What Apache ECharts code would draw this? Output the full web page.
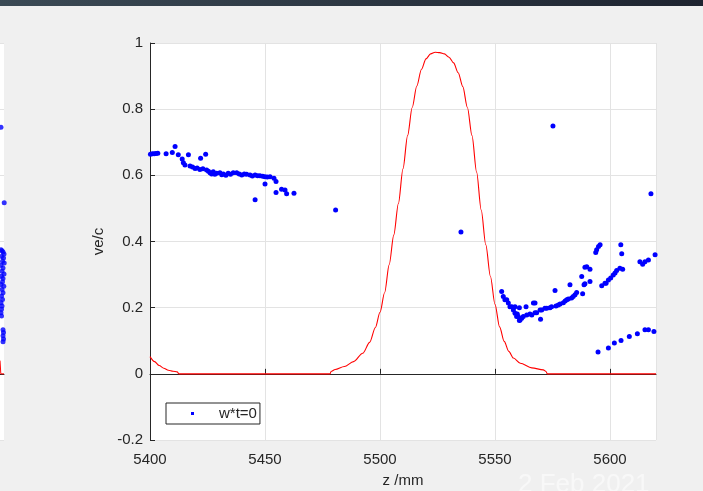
<!DOCTYPE html>
<html>
<head>
<meta charset="utf-8">
<script src="https://cdn.jsdelivr.net/npm/echarts@6/dist/echarts.min.js"></script>
<style>
html,body{margin:0;padding:0;background:#f0f0f0;}
#chart{width:703px;height:491px;}
</style>
</head>
<body>
<div id="chart"></div>
<script>
// ---- data ----
const xTicks = [5400, 5450, 5500, 5550, 5600];
const yTicks = [-0.2, 0, 0.2, 0.4, 0.6, 0.8, 1];
const seriesName = 'w*t=0';
const xName = 'z /mm';
const yName = 've/c';
const dateText = '2 Feb 2021';

// field profile (red line): z positions and values
const fieldZ = [5400, 5402, 5404, 5406, 5408, 5410, 5411.8, 5412.6,
  5478.3, 5478.7, 5480.5, 5484.5, 5488.5, 5492.5, 5495.5, 5498, 5500, 5502, 5504, 5506, 5508, 5510, 5512, 5514, 5516, 5518, 5520, 5522, 5524, 5526,
  5528, 5530, 5532, 5534, 5536, 5538, 5540, 5542, 5544, 5546, 5548, 5550, 5552, 5554, 5556, 5558, 5561, 5566, 5571, 5572.2, 5572.7, 5620];
const fieldV = [0.052, 0.037, 0.025, 0.017, 0.011, 0.008, 0.006, 0,
  0, 0.007, 0.013, 0.022, 0.037, 0.062, 0.095, 0.14, 0.186, 0.245, 0.33, 0.42, 0.515, 0.62, 0.72, 0.805, 0.87, 0.92, 0.952, 0.967, 0.972, 0.971,
  0.967, 0.957, 0.94, 0.91, 0.868, 0.805, 0.72, 0.61, 0.495, 0.39, 0.295, 0.21, 0.142, 0.098, 0.068, 0.048, 0.032, 0.018, 0.012, 0.007, 0, 0];

// particles (blue dots): [z, ve/c]
const particles = [
 [5400.2,0.664],[5401,0.665],[5401.8,0.665],[5402.6,0.666],[5403.4,0.667],[5407,0.665],[5409.7,0.669],[5410.9,0.687],
 [5412.3,0.662],[5414,0.649],[5414.5,0.638],[5415.2,0.631],[5416.7,0.662],[5417.4,0.628],[5418.5,0.625],[5419.6,0.621],
 [5420.5,0.622],[5421.7,0.618],[5422,0.652],[5423,0.62],[5424.2,0.664],[5424.6,0.616],[5425.4,0.612],[5426.1,0.608],
 [5426.8,0.604],[5427.5,0.611],[5428.2,0.603],[5429,0.606],[5430.4,0.608],[5431.2,0.602],[5431.9,0.604],[5433,0.6],
 [5434,0.606],[5435,0.603],[5436.2,0.608],[5437.7,0.608],[5438.8,0.604],[5439.9,0.601],[5441,0.604],[5442,0.603],
 [5443.5,0.601],[5444.5,0.598],[5445.7,0.601],[5446.8,0.599],[5447.8,0.599],[5449,0.597],[5450,0.596],[5451,0.595],
 [5452.2,0.596],[5453.9,0.591],[5454.8,0.581],[5450,0.574],[5454.8,0.548],[5457.2,0.558],[5458.7,0.556],[5459.4,0.544],
 [5462.6,0.546],[5445.7,0.526],[5480.7,0.495],[5535.2,0.429],[5575.2,0.749],[5617.8,0.544],
 [5552.9,0.249],[5553.6,0.234],[5554.3,0.224],[5555.1,0.224],[5555.8,0.214],[5556.5,0.203],[5557.3,0.203],[5558,0.193],
 [5558.7,0.203],[5558.7,0.183],[5559.4,0.173],[5559.7,0.181],[5560.1,0.173],[5560.6,0.161],[5560.6,0.2],[5560.9,0.163],
 [5561.6,0.168],[5562.3,0.173],[5563.5,0.203],[5563.8,0.178],[5565.2,0.181],[5566,0.178],[5566.7,0.214],[5567.4,0.214],
 [5567.4,0.185],[5568.1,0.185],[5569.6,0.193],[5569.8,0.165],[5570.3,0.193],[5571.7,0.198],[5572.5,0.198],[5573.9,0.2],
 [5574.6,0.203],[5576.1,0.252],[5576.5,0.205],[5577.5,0.208],[5578.3,0.211],[5579.7,0.215],[5580.5,0.22],[5581.2,0.224],
 [5581.9,0.226],[5582.6,0.269],[5583.3,0.229],[5584,0.234],[5584.8,0.239],[5585.5,0.246],[5588.1,0.242],[5587.7,0.294],
 [5588.7,0.269],[5589.1,0.272],[5589.9,0.324],[5589.1,0.322],[5591.3,0.316],[5591.3,0.279],[5593.8,0.367],[5594.2,0.375],
 [5595,0.385],[5595.7,0.39],[5596.4,0.266],[5597.8,0.274],[5598.3,0.274],[5599.3,0.284],[5600.3,0.29],[5601.4,0.299],
 [5602.2,0.305],[5602.9,0.312],[5604.3,0.319],[5605.5,0.316],[5604.7,0.39],[5605.1,0.363],[5613,0.339],[5614.2,0.331],
 [5615.2,0.339],[5616.7,0.344],[5619.6,0.36],
 [5594.8,0.066],[5599.3,0.078],[5601.9,0.093],[5604.8,0.101],[5608.4,0.113],[5611.9,0.121],[5615.2,0.133],[5616.7,0.133],[5619.1,0.128]
];

// neighbouring (cut-off) panel on the far left: [x, ve/c]
const leftPanelParticles = [
 [1,0.745],[4.2,0.517],
 [1,0.375],[2,0.372],[3,0.368],[4,0.362],[1.5,0.355],[3.5,0.35],[2.5,0.34],[4.2,0.335],[1,0.328],[3,0.32],
 [2,0.31],[4,0.302],[1.5,0.295],[3,0.288],[2.5,0.278],[1,0.27],[3.8,0.265],[2,0.255],[3,0.245],[1.5,0.235],
 [2.5,0.225],[1,0.215],[2,0.205],[1.5,0.195],[1,0.185],[1.5,0.175],
 [3,0.133],[3.5,0.125],[3,0.115],[3.5,0.105],[3,0.097]
];
const leftPanelField = [[0,0.04],[0.8,0],[4,0]];

// ---- chart ----
const chart = echarts.init(document.getElementById('chart'));
const axisColor = '#262626';
const gridColor = '#e3e3e3';
const font = "'Liberation Sans', Arial, Helvetica, sans-serif";

chart.setOption({
  backgroundColor: '#f0f0f0',
  animation: false,
  textStyle: { fontFamily: font },
  graphic: [
    { type: 'rect', left: 0, top: 0, shape: { width: 703, height: 6 }, z: 100,
      style: { fill: new echarts.graphic.LinearGradient(0, 0, 1, 0, [
        { offset: 0, color: '#3b4a55' }, { offset: 1, color: '#1e2430' }]) } },
    { type: 'text', left: 518, top: 472, z: 100,
      style: { text: dateText, fill: '#f8f8f8', font: "26px 'Liberation Sans', Arial, sans-serif" } }
  ],
  grid: [
    { left: 150, top: 43, width: 506, height: 397, show: true, backgroundColor: '#ffffff', borderWidth: 0,
      containLabel: false, outerBoundsMode: 'none' },
    { left: 0, top: 43, width: 4, height: 397, show: true, backgroundColor: '#ffffff', borderWidth: 0,
      containLabel: false, outerBoundsMode: 'none' }
  ],
  legend: {
    data: [seriesName],
    left: 166, top: 403,
    orient: 'vertical',
    backgroundColor: '#ffffff',
    borderColor: axisColor,
    borderWidth: 1,
    borderRadius: 0,
    padding: [3, 3, 3, 25],
    itemWidth: 3, itemHeight: 3,
    icon: 'rect',
    itemStyle: { color: '#0000ff' },
    textStyle: { fontSize: 15, color: axisColor, fontFamily: font, padding: [0, 0, 0, 20] }
  },
  xAxis: [
    {
      gridIndex: 0, type: 'value', min: xTicks[0], max: 5620, interval: 50,
      name: xName, nameLocation: 'middle', nameGap: 33,
      nameTextStyle: { fontSize: 15, color: axisColor },
      axisLine: { show: true, lineStyle: { color: axisColor, width: 1 } },
      axisTick: { show: true, inside: true, length: 5, lineStyle: { color: axisColor } },
      axisLabel: { fontSize: 15, color: axisColor, margin: 12, showMaxLabel: false,
        formatter: v => xTicks.includes(v) ? String(v) : '' },
      splitLine: { show: true, lineStyle: { color: gridColor, width: 1 } }
    },
    {
      gridIndex: 1, type: 'value', min: 0, max: 4,
      axisLine: { show: true, lineStyle: { color: axisColor, width: 1 } },
      axisTick: { show: false }, axisLabel: { show: false }, splitLine: { show: false }
    }
  ],
  yAxis: [
    {
      gridIndex: 0, type: 'value', min: yTicks[0], max: yTicks[yTicks.length - 1], interval: 0.2,
      name: yName, nameLocation: 'middle', nameGap: 37, nameRotate: 90,
      nameTextStyle: { fontSize: 15, color: axisColor },
      axisLine: { show: true, lineStyle: { color: axisColor, width: 1 } },
      axisTick: { show: true, inside: true, length: 5, lineStyle: { color: axisColor } },
      axisLabel: { fontSize: 15, color: axisColor, margin: 7,
        formatter: v => String(Math.round(v * 10) / 10) },
      splitLine: { show: true, lineStyle: { color: gridColor, width: 1 } }
    },
    {
      gridIndex: 1, type: 'value', min: yTicks[0], max: yTicks[yTicks.length - 1], interval: 0.2,
      axisLine: { show: false }, axisTick: { show: false }, axisLabel: { show: false },
      splitLine: { show: true, lineStyle: { color: gridColor, width: 1 } }
    }
  ],
  series: [
    {
      name: seriesName, type: 'scatter', xAxisIndex: 0, yAxisIndex: 0,
      data: particles, symbol: 'circle', symbolSize: 5, clip: false,
      itemStyle: { color: '#0000ff', opacity: 1 }, z: 3
    },
    {
      name: 'field', type: 'line', xAxisIndex: 0, yAxisIndex: 0,
      data: fieldZ.map((z, i) => [z, fieldV[i]]),
      showSymbol: false, symbol: 'none', smooth: 0.3, smoothMonotone: 'x',
      lineStyle: { color: '#ff0000', width: 1.1 }, z: 4
    },
    {
      name: 'leftField', type: 'line', xAxisIndex: 1, yAxisIndex: 1,
      data: leftPanelField, showSymbol: false, symbol: 'none',
      lineStyle: { color: '#ff0000', width: 1 }
    },
    {
      name: 'leftDots', type: 'scatter', xAxisIndex: 1, yAxisIndex: 1,
      data: leftPanelParticles, symbol: 'circle', symbolSize: 5, clip: false,
      itemStyle: { color: '#0000ff' }
    }
  ]
});
</script>
</body>
</html>
